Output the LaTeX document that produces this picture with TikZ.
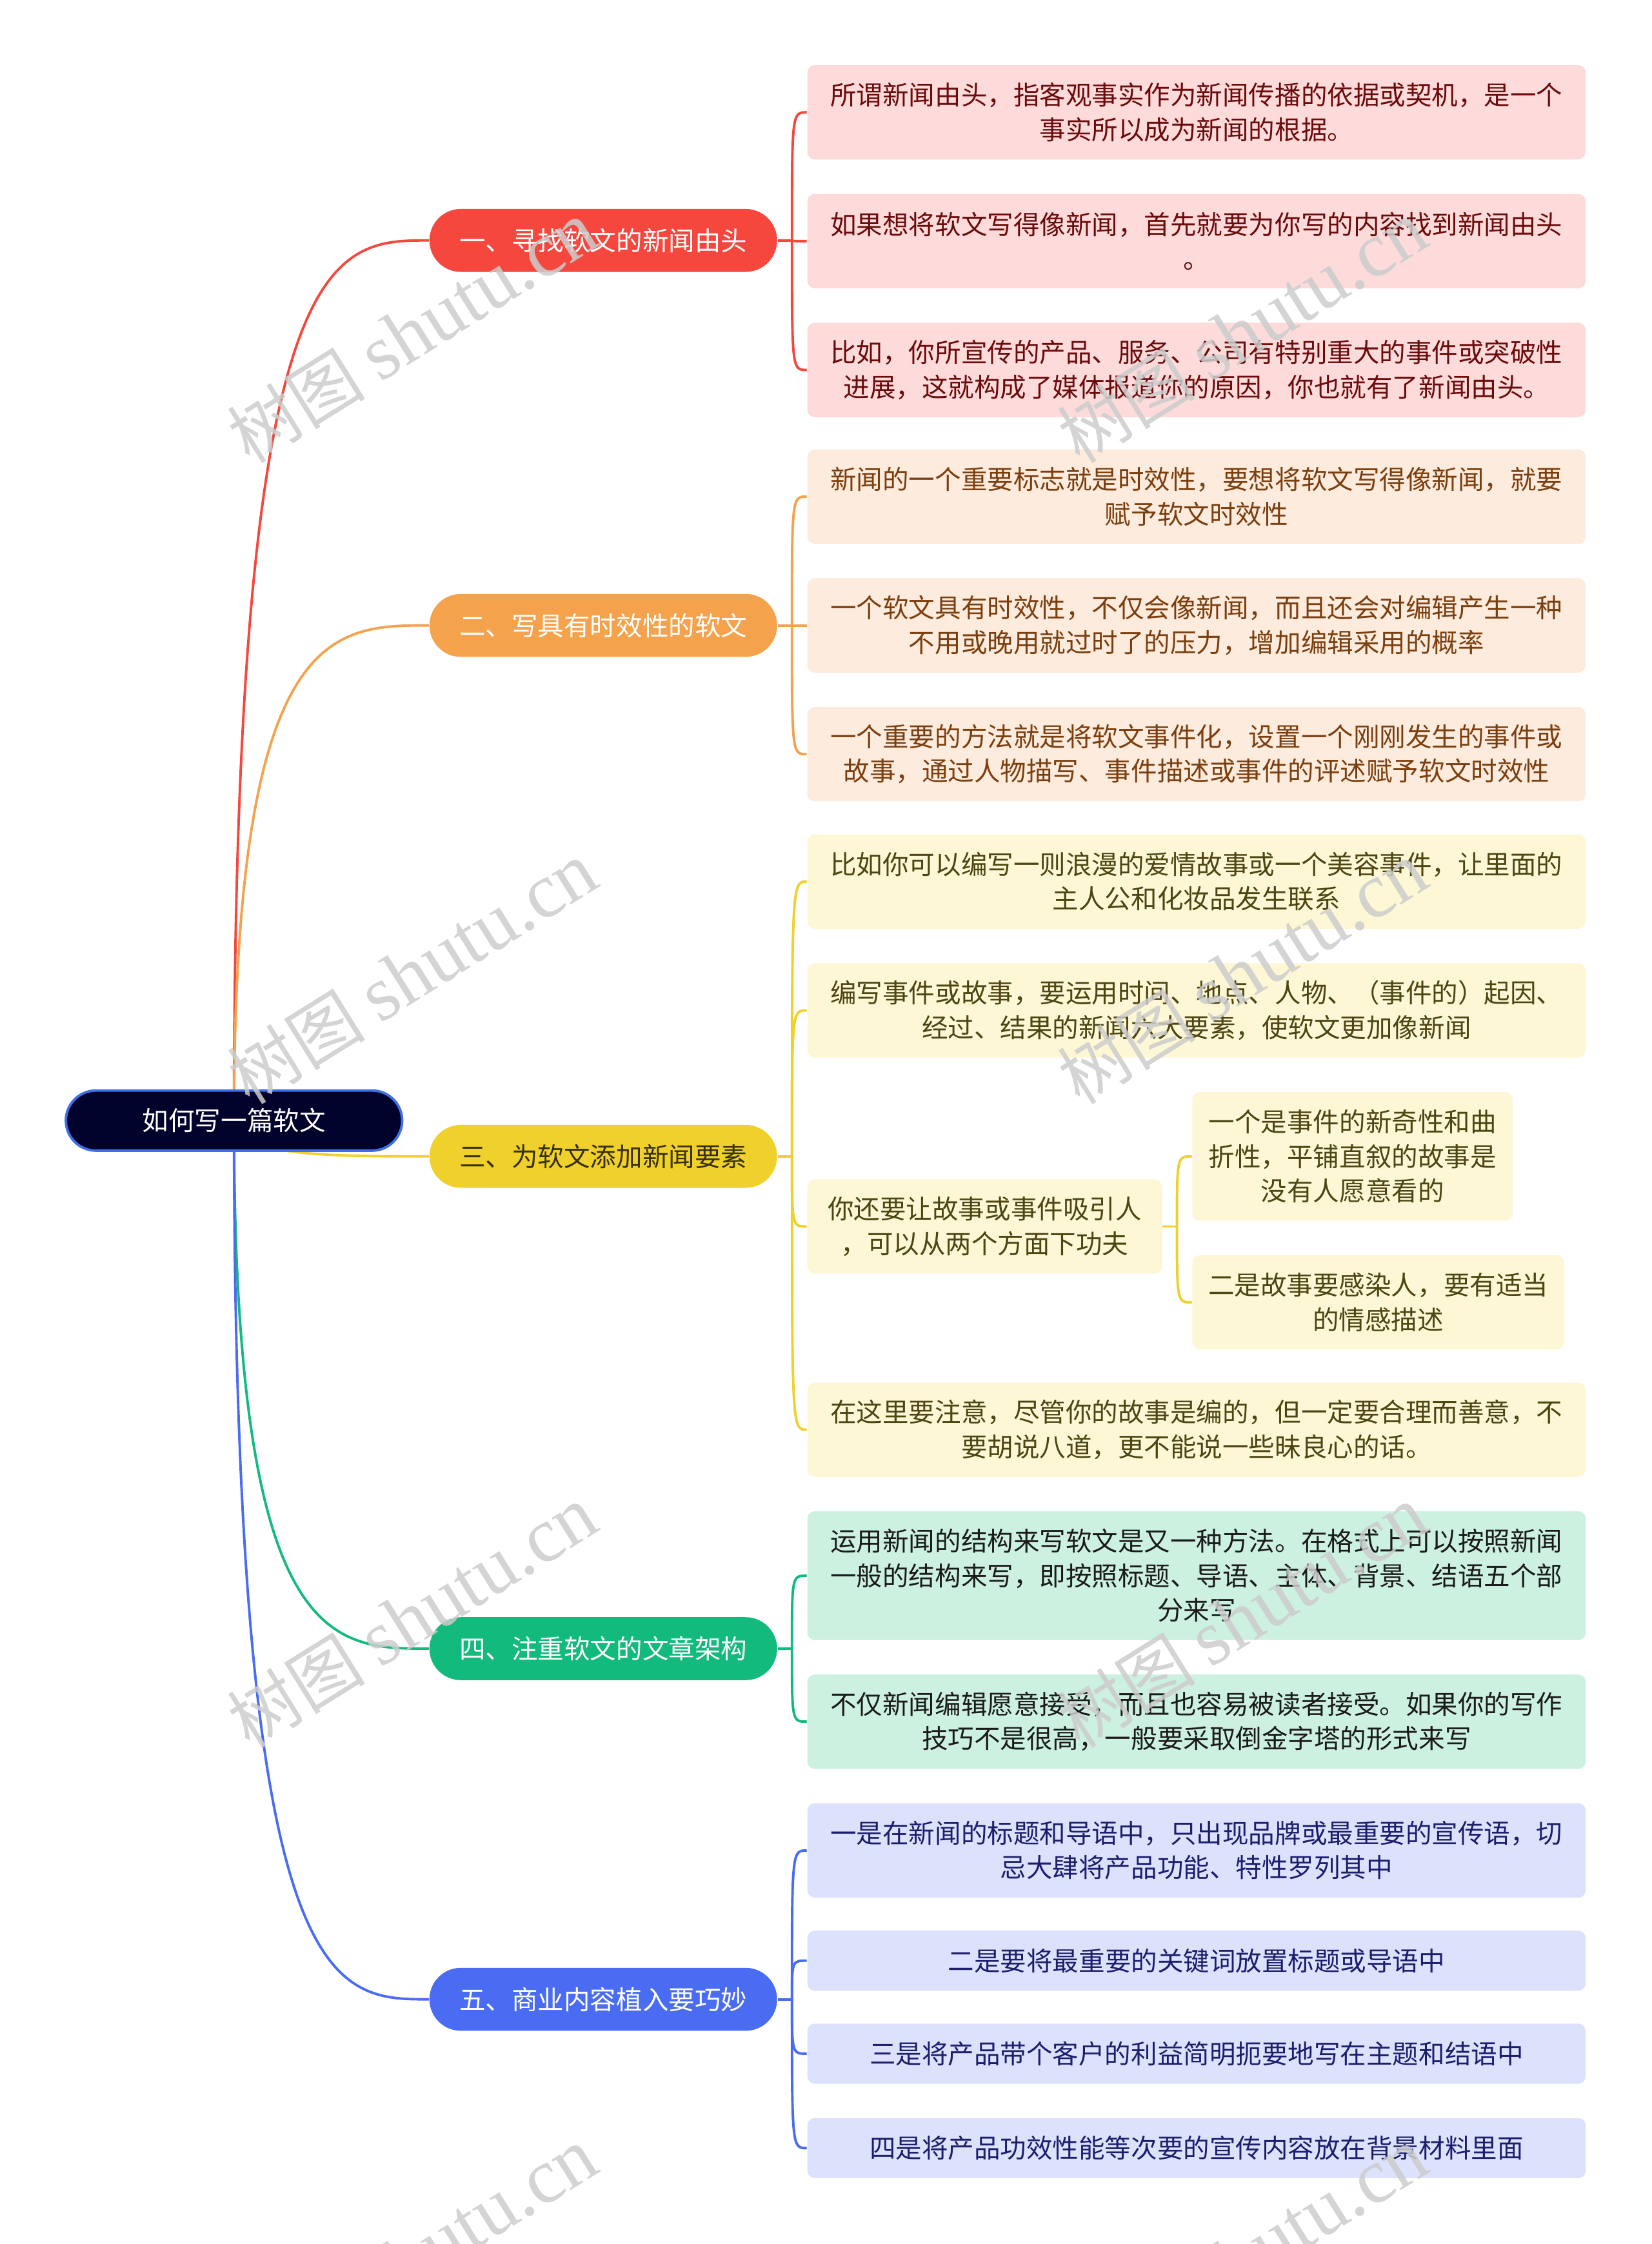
\documentclass[tikz,border=0pt]{standalone}
\usepackage{fontspec}
\setmainfont{Noto Sans CJK SC}
\newfontfamily\wmlatin{Liberation Serif}
\usepackage{tikz}
\usetikzlibrary{calc,backgrounds}
\usepackage{xcolor}
\definecolor{rootfill}{HTML}{00022B}
\definecolor{rootedge}{HTML}{3D6FE6}
\definecolor{redc}{HTML}{F5473E}
\definecolor{redleaf}{HTML}{FDDBDB}
\definecolor{redtext}{HTML}{6B0B0B}
\definecolor{orangec}{HTML}{F5A24D}
\definecolor{orangeleaf}{HTML}{FDEBDD}
\definecolor{orangetext}{HTML}{7B3F0F}
\definecolor{yellowc}{HTML}{F0D12B}
\definecolor{yellowleaf}{HTML}{FDF7D6}
\definecolor{yellowtext}{HTML}{4D4512}
\definecolor{greenc}{HTML}{12BA7B}
\definecolor{greenleaf}{HTML}{CCF1E1}
\definecolor{greentext}{HTML}{1B1B1B}
\definecolor{bluec}{HTML}{4A6CF2}
\definecolor{blueleaf}{HTML}{DCE2FB}
\definecolor{bluetext}{HTML}{1C1E6E}
\tikzset{rootbox/.style={draw=rootedge,line width=1pt,fill=rootfill,text=white,rounded corners=.42cm,minimum width=4.7cm,minimum height=.84cm,inner sep=0pt,font=\fontsize{10.4}{13.7}\selectfont},branchbox/.style={rounded corners=.44cm,minimum width=4.86cm,minimum height=.88cm,inner sep=0pt,text=white,font=\fontsize{10.4}{13.7}\selectfont},leafbox/.style={rounded corners=3pt,minimum width=10.88cm,minimum height=1.32cm,inner sep=0pt,align=center,font=\fontsize{10.4}{13.7}\selectfont},redbox/.style={leafbox,fill=redleaf,text=redtext},orangebox/.style={leafbox,fill=orangeleaf,text=orangetext},yellowbox/.style={leafbox,fill=yellowleaf,text=yellowtext},greenbox/.style={leafbox,fill=greenleaf,text=greentext},bluebox/.style={leafbox,fill=blueleaf,text=bluetext},link/.style={draw=#1,line width=1pt},watermark/.style={text=black!20,opacity=.85,rotate=32,inner sep=0pt,font=\fontsize{27.5}{28}\selectfont}}

\begin{document}
\begin{tikzpicture}[x=.02cm,y=-.02cm]
\useasboundingbox (0,0) rectangle (1154,1568);
\clip (0,0) rectangle (1154,1568);
% centre and main branches
\node[rootbox] (root) at (163.5,783) {如何写一篇软文};
\node[branchbox,fill=redc] (b1) at (421.5,168) {一、寻找软文的新闻由头};
\node[branchbox,fill=orangec] (b2) at (421.5,437) {二、写具有时效性的软文};
\node[branchbox,fill=yellowc,text=yellowtext!70!black] (b3) at (421.5,808) {三、为软文添加新闻要素};
\node[branchbox,fill=greenc] (b4) at (421.5,1152) {四、注重软文的文章架构};
\node[branchbox,fill=bluec] (b5) at (421.5,1397) {五、商业内容植入要巧妙};
% leaves
\node[redbox] (r1) at (836,78.5) {所谓新闻由头，指客观事实作为新闻传播的依据或契机，是一个\\事实所以成为新闻的根据。};
\node[redbox] (r2) at (836,168.5) {如果想将软文写得像新闻，首先就要为你写的内容找到新闻由头\\。};
\node[redbox] (r3) at (836,258.5) {比如，你所宣传的产品、服务、公司有特别重大的事件或突破性\\进展，这就构成了媒体报道你的原因，你也就有了新闻由头。};
\node[orangebox] (o1) at (836,347) {新闻的一个重要标志就是时效性，要想将软文写得像新闻，就要\\赋予软文时效性};
\node[orangebox] (o2) at (836,437) {一个软文具有时效性，不仅会像新闻，而且还会对编辑产生一种\\不用或晚用就过时了的压力，增加编辑采用的概率};
\node[orangebox] (o3) at (836,527) {一个重要的方法就是将软文事件化，设置一个刚刚发生的事件或\\故事，通过人物描写、事件描述或事件的评述赋予软文时效性};
\node[yellowbox] (y1) at (836,616) {比如你可以编写一则浪漫的爱情故事或一个美容事件，让里面的\\主人公和化妆品发生联系};
\node[yellowbox] (y2) at (836,706) {编写事件或故事，要运用时间、地点、人物、（事件的）起因、\\经过、结果的新闻六大要素，使软文更加像新闻};
\node[yellowbox,minimum width=4.96cm] (y3) at (688,857) {你还要让故事或事件吸引人\\，可以从两个方面下功夫};
\node[yellowbox,minimum width=4.48cm,minimum height=1.8cm] (ys1) at (945,808) {一个是事件的新奇性和曲\\折性，平铺直叙的故事是\\没有人愿意看的};
\node[yellowbox,minimum width=5.2cm] (ys2) at (963,910) {二是故事要感染人，要有适当\\的情感描述};
\node[yellowbox] (y4) at (836,999) {在这里要注意，尽管你的故事是编的，但一定要合理而善意，不\\要胡说八道，更不能说一些昧良心的话。};
\node[greenbox,minimum height=1.8cm] (g1) at (836,1101) {运用新闻的结构来写软文是又一种方法。在格式上可以按照新闻\\一般的结构来写，即按照标题、导语、主体、背景、结语五个部\\分来写};
\node[greenbox] (g2) at (836,1203) {不仅新闻编辑愿意接受，而且也容易被读者接受。如果你的写作\\技巧不是很高，一般要采取倒金字塔的形式来写};
\node[bluebox] (u1) at (836,1293) {一是在新闻的标题和导语中，只出现品牌或最重要的宣传语，切\\忌大肆将产品功能、特性罗列其中};
\node[bluebox,minimum height=.84cm] (u2) at (836,1370) {二是要将最重要的关键词放置标题或导语中};
\node[bluebox,minimum height=.84cm] (u3) at (836,1435) {三是将产品带个客户的利益简明扼要地写在主题和结语中};
\node[bluebox,minimum height=.84cm] (u4) at (836,1501) {四是将产品功效性能等次要的宣传内容放在背景材料里面};
% connectors
\begin{scope}[on background layer]
\foreach \b/\c in {b1/redc,b2/orangec,b3/yellowc,b4/greenc,b5/bluec}
  \draw[link=\c] (root.center) .. controls (root.center |- \b.west) and ($(root.center |- \b.west)!.5!(\b.west)$) .. (\b.west);
\foreach \b/\c/\j in {b1/redc/j1,b2/orangec/j2,b3/yellowc/j3,b4/greenc/j4,b5/bluec/j5}{
  \coordinate (\j) at ($(\b.east)+(10,0)$);
  \draw[link=\c] (\b.east) -- (\j);}
\coordinate (j6) at ($(y3.east)+(10,0)$);
\draw[link=yellowc] (y3.east) -- (j6);
\foreach \l in {r1,r2,r3} \draw[link=redc] (j1) .. controls (j1 |- \l.west) .. (\l.west);
\foreach \l in {o1,o2,o3} \draw[link=orangec] (j2) .. controls (j2 |- \l.west) .. (\l.west);
\foreach \l in {y1,y2,y3,y4} \draw[link=yellowc] (j3) .. controls (j3 |- \l.west) .. (\l.west);
\foreach \l in {ys1,ys2} \draw[link=yellowc] (j6) .. controls (j6 |- \l.west) .. (\l.west);
\foreach \l in {g1,g2} \draw[link=greenc] (j4) .. controls (j4 |- \l.west) .. (\l.west);
\foreach \l in {u1,u2,u3,u4} \draw[link=bluec] (j5) .. controls (j5 |- \l.west) .. (\l.west);
\end{scope}
% watermarks
\foreach \wx in {288,868}
  \foreach \wy in {232,680,1130,1578}
    \node[watermark] (wm-\wx-\wy) at (\wx,\wy) {树图 {\wmlatin\fontsize{31}{31}\selectfont shutu.cn}};
\end{tikzpicture}
\end{document}
